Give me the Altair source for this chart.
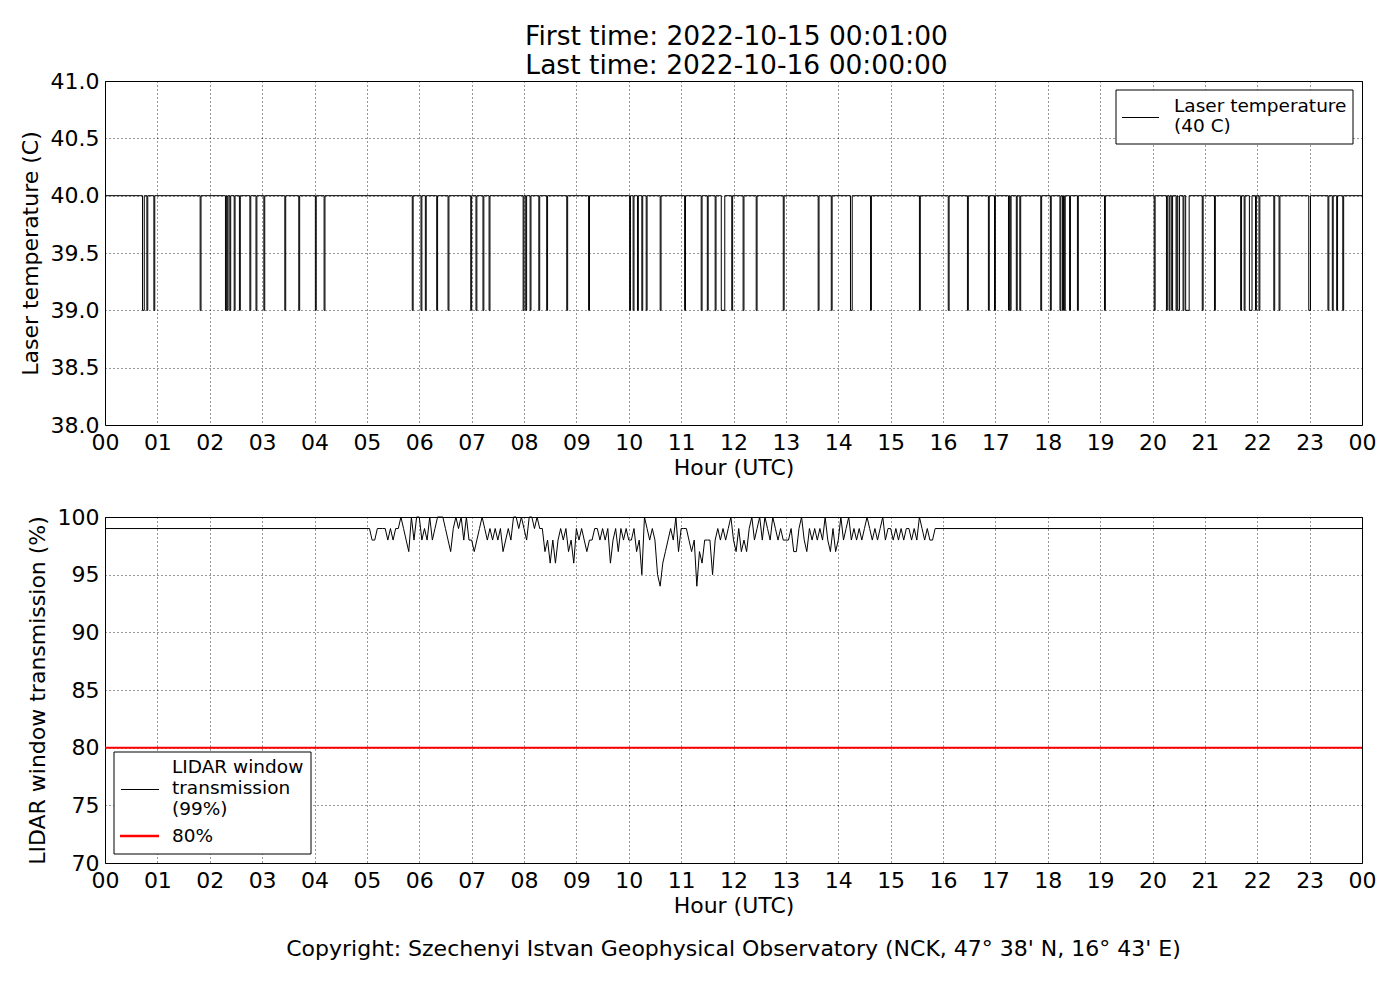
import altair as alt
import pandas as pd

FONT = "DejaVu Sans"

TITLE_LINES = ["First time: 2022-10-15 00:01:00", "Last time: 2022-10-16 00:00:00"]
FOOTER = "Copyright: Szechenyi Istvan Geophysical Observatory (NCK, 47° 38' N, 16° 43' E)"

HOUR_TICKS = list(range(25))
LASER_TICKS = [38.0, 38.5, 39.0, 39.5, 40.0, 40.5, 41.0]
TRANS_TICKS = [70, 75, 80, 85, 90, 95, 100]

# Laser temperature: nominal 40 C with short drops to 39 C (start minute, length in minutes)
LASER_NOMINAL = 40.0
LASER_DROP = 39.0
DIP_START_MIN = [43, 48, 56, 109, 138, 140, 143, 148, 154, 166, 173, 182, 206, 222, 241, 251,
                 352, 362, 367, 380, 393, 419, 425, 433, 440, 479, 482, 487, 497, 506, 529, 554,
                 601, 605, 610, 615, 620, 636, 664, 683, 690, 699, 706, 718,
                 731, 746, 777, 817, 832, 854, 877, 933, 966, 988, 1012, 1019, 1035, 1037,
                 1044, 1048, 1072, 1083, 1094, 1097, 1099, 1105, 1114, 1145, 1202,
                 1216, 1219, 1222, 1227, 1229, 1235, 1238, 1257, 1271, 1301, 1305, 1311,
                 1318, 1322, 1339, 1345, 1379, 1401, 1406, 1411, 1418]
DIP_LEN_MIN = [2, 1, 1, 1, 1, 1, 1, 1, 1, 1, 1, 1, 1, 1, 1, 1,
               1, 1, 1, 1, 1, 1, 1, 1, 1, 1, 1, 1, 1, 1, 1, 1,
               1, 1, 1, 1, 1, 1, 1, 1, 1, 1, 4, 1,
               1, 1, 1, 1, 1, 2, 1, 1, 1, 1, 1, 1, 1, 1,
               1, 1, 1, 1, 1, 1, 1, 1, 1, 1, 1,
               1, 1, 1, 1, 2, 1, 4, 1, 1, 1, 1, 3,
               1, 1, 1, 1, 2, 1, 1, 1, 1]

# LIDAR window transmission (%), 3-minute readings per hour from 05 UTC
TRANS_BASE = 99
TRANS_STEP_MIN = 3
TRANS_H05 = [99, 99, 98, 98, 99, 99, 99, 99, 98, 99, 98, 99, 99, 100, 99, 98, 97, 100, 98, 100]
TRANS_H06 = [100, 98, 99, 98, 100, 98, 99, 100, 100, 100, 99, 98, 97, 99, 100, 99, 100, 98, 100, 98]
TRANS_H07 = [98, 97, 98, 99, 100, 99, 98, 99, 98, 99, 98, 99, 97, 98, 99, 98, 100, 100, 99, 100]
TRANS_H08 = [99, 98, 100, 100, 99, 100, 99, 99, 97, 98, 96, 98, 96, 98, 99, 98, 99, 97, 98, 96]
TRANS_H09 = [99, 98, 99, 98, 97, 98, 98, 99, 99, 98, 99, 98, 99, 96, 98, 99, 97, 99, 98, 99]
TRANS_H10 = [98, 98, 99, 97, 98, 95, 100, 99, 98, 99, 98, 95, 94, 96, 97, 98, 99, 98, 100, 97]
TRANS_H11 = [99, 99, 99, 98, 97, 98, 94, 97, 96, 98, 98, 98, 95, 98, 99, 98, 99, 98, 99, 100]
TRANS_H12 = [98, 97, 99, 97, 98, 97, 99, 100, 98, 99, 100, 98, 100, 99, 98, 100, 99, 98, 99, 98]
TRANS_H13 = [98, 98, 99, 97, 97, 99, 100, 98, 97, 99, 98, 99, 98, 99, 98, 100, 98, 97, 99, 97]
TRANS_H14 = [98, 100, 98, 99, 100, 98, 99, 98, 99, 98, 99, 100, 99, 98, 99, 98, 99, 100, 98, 99]
TRANS_H15 = [99, 98, 99, 98, 99, 98, 99, 99, 98, 99, 98, 100, 99, 98, 99, 98, 98, 99]
TRANS_HOURS = [5, 6, 7, 8, 9, 10, 11, 12, 13, 14, 15]
THRESHOLD = 80

# ---- tables ----
laser_rows = [(1 / 60, LASER_NOMINAL)]
for s, n in zip(DIP_START_MIN, DIP_LEN_MIN):
    laser_rows += [(s / 60, LASER_NOMINAL), (s / 60, LASER_DROP),
                   ((s + n) / 60, LASER_DROP), ((s + n) / 60, LASER_NOMINAL)]
laser_rows.append((24.0, LASER_NOMINAL))
laser_df = pd.DataFrame(laser_rows, columns=["t", "v"])
laser_df["i"] = range(len(laser_df))

trans_rows = [(0.0, TRANS_BASE)]
for h, vals in zip(TRANS_HOURS, [TRANS_H05, TRANS_H06, TRANS_H07, TRANS_H08, TRANS_H09, TRANS_H10,
                                 TRANS_H11, TRANS_H12, TRANS_H13, TRANS_H14, TRANS_H15]):
    for k, v in enumerate(vals):
        trans_rows.append((h + k * TRANS_STEP_MIN / 60, v))
trans_rows.append((24.0, TRANS_BASE))
trans_df = pd.DataFrame(trans_rows, columns=["t", "v"])
trans_df["i"] = range(len(trans_df))

W, H1, H2 = 1257, 344, 346
one = pd.DataFrame({"a": [0]})
LEG_FS = 18.5

hour_label = "datum.value == 24 ? '00' : (datum.value < 10 ? '0' + datum.value : '' + datum.value)"


def xenc():
    return alt.X("t:Q", scale=alt.Scale(domain=[0, 24], nice=False, zero=False),
                 axis=alt.Axis(values=HOUR_TICKS, labelExpr=hour_label, title="Hour (UTC)"))


# ---- top panel ----
top_line = alt.Chart(laser_df).mark_line(color="black", strokeWidth=1).encode(
    x=xenc(),
    y=alt.Y("v:Q", scale=alt.Scale(domain=[38, 41], nice=False, zero=False),
            axis=alt.Axis(values=LASER_TICKS, format=".1f", title="Laser temperature (C)")),
    order=alt.Order("i:Q"),
)
top_box = alt.Chart(one).mark_rect(fill="white", stroke="black", strokeWidth=1).encode(
    x=alt.value(1011), x2=alt.value(1248), y=alt.value(9), y2=alt.value(63))
top_sample = alt.Chart(one).mark_rule(color="black", strokeWidth=1).encode(
    x=alt.value(1017), x2=alt.value(1054), y=alt.value(36.5))
top_t1 = alt.Chart(one).mark_text(text="Laser temperature", align="left", baseline="middle",
                                  font=FONT, fontSize=LEG_FS, color="black").encode(
    x=alt.value(1069), y=alt.value(25))
top_t2 = alt.Chart(one).mark_text(text="(40 C)", align="left", baseline="middle",
                                  font=FONT, fontSize=LEG_FS, color="black").encode(
    x=alt.value(1069), y=alt.value(45))
top = alt.layer(top_line, top_box, top_sample, top_t1, top_t2).properties(width=W, height=H1)

# ---- bottom panel ----
bot_line = alt.Chart(trans_df).mark_line(color="black", strokeWidth=1).encode(
    x=xenc(),
    y=alt.Y("v:Q", scale=alt.Scale(domain=[70, 100], nice=False, zero=False),
            axis=alt.Axis(values=TRANS_TICKS, format="d", title="LIDAR window transmission (%)")),
    order=alt.Order("i:Q"),
)
bot_thr = alt.Chart(pd.DataFrame({"v": [THRESHOLD]})).mark_rule(color="#ff0000", strokeWidth=2).encode(
    y="v:Q")
bot_box = alt.Chart(one).mark_rect(fill="white", stroke="black", strokeWidth=1).encode(
    x=alt.value(9), x2=alt.value(206), y=alt.value(235), y2=alt.value(337))
bot_s1 = alt.Chart(one).mark_rule(color="black", strokeWidth=1).encode(
    x=alt.value(16), x2=alt.value(54), y=alt.value(272.5))
bot_s2 = alt.Chart(one).mark_rule(color="#ff0000", strokeWidth=2.5).encode(
    x=alt.value(15), x2=alt.value(54), y=alt.value(319))
leg_txt = []
for txt, yy in [("LIDAR window", 250), ("transmission", 271), ("(99%)", 292), ("80%", 319)]:
    leg_txt.append(alt.Chart(one).mark_text(text=txt, align="left", baseline="middle",
                                            font=FONT, fontSize=LEG_FS, color="black").encode(
        x=alt.value(67), y=alt.value(yy)))
footer = alt.Chart(one).mark_text(text=FOOTER, align="center", baseline="middle",
                                  font=FONT, fontSize=22, color="black").encode(
    x=alt.value(W / 2), y=alt.value(432))
bottom = alt.layer(bot_line, bot_thr, bot_box, bot_s1, bot_s2, *leg_txt, footer).properties(
    width=W, height=H2)

chart = alt.vconcat(top, bottom, spacing=26).properties(
    title=alt.TitleParams(TITLE_LINES, fontSize=26.5, font=FONT, fontWeight="normal",
                          color="black", anchor="middle", offset=-10, lineHeight=29, dx=39),
    padding={"left": 10, "top": 16, "right": 5, "bottom": 5},
    background="white",
).configure_view(
    stroke="black", strokeWidth=1
).configure_axis(
    domain=False, ticks=False, grid=True, gridColor="black", gridDash=[1, 3], gridOpacity=0.8,
    gridWidth=1, labelFlush=False,
    labelFont=FONT, labelFontSize=22, labelColor="black", labelPadding=6,
    titleFont=FONT, titleFontSize=22, titleFontWeight="normal", titleColor="black",
).configure_axisX(
    labelPadding=7, titlePadding=4
).configure_axisY(
    titlePadding=8
)

chart.save("out.html", embed_options={"renderer": "svg", "actions": False})
